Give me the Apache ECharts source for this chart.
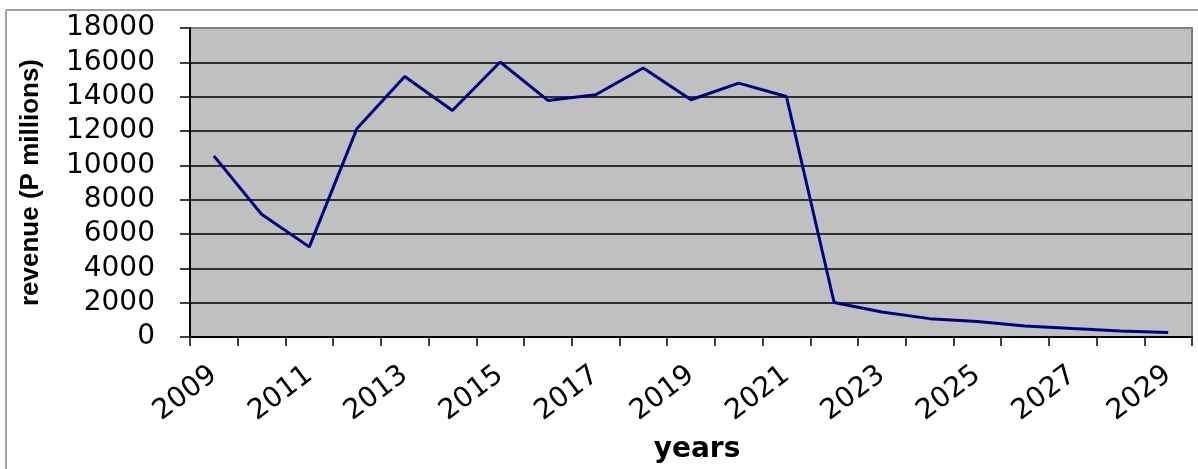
<!DOCTYPE html>
<html>
<head>
<meta charset="utf-8">
<title>Revenue by year</title>
<script src="https://cdn.jsdelivr.net/npm/echarts@6/dist/echarts.min.js"></script>
<style>
  html, body { margin: 0; padding: 0; background: #ffffff; }
  #chart { width: 1198px; height: 469px; }
</style>
</head>
<body>
<div id="chart"></div>
<script>
// Annual revenue, P millions
const years = ['2009', '2010', '2011', '2012', '2013', '2014', '2015', '2016', '2017', '2018', '2019',
               '2020', '2021', '2022', '2023', '2024', '2025', '2026', '2027', '2028', '2029'];
const revenue = [10550, 7150, 5250, 12150, 15180, 13190, 16020, 13780, 14110, 15670, 13820,
                 14790, 14010, 2010, 1460, 1070, 900, 640, 490, 350, 260];

// Value axis range
const yMin = 0;
const yMax = 18000;
const yStep = 2000;

const tickFont = 'DejaVu Sans';
const titleFont = 'Liberation Sans';

// grid lines are black, except the topmost one which is part of the grey frame
const gridColors = [];
for (let v = yMin; v <= yMax; v += yStep) gridColors.push(v === yMax ? '#808080' : '#000000');

const chart = echarts.init(document.getElementById('chart'), null, { renderer: 'canvas' });

chart.setOption({
  animation: false,
  backgroundColor: '#ffffff',
  grid: {
    left: 190, right: 6, top: 28, bottom: 132,
    show: true,
    backgroundColor: '#c0c0c0',
    borderColor: '#808080',
    borderWidth: 2
  },
  graphic: [
    { type: 'line', shape: { x1: 6, y1: 10, x2: 6, y2: 469 }, style: { stroke: '#a0a0a0', lineWidth: 2 } },
    { type: 'line', shape: { x1: 6, y1: 10, x2: 1198, y2: 10 }, style: { stroke: '#a0a0a0', lineWidth: 2 } }
  ],
  xAxis: {
    type: 'category',
    data: years,
    boundaryGap: true,
    name: 'years',
    nameLocation: 'middle',
    nameGap: 99,
    nameTextStyle: { fontFamily: tickFont, fontWeight: 'bold', fontSize: 28, color: '#000', padding: [0, 0, 0, 12] },
    axisLine: { show: true, lineStyle: { color: '#000', width: 2 } },
    axisTick: { show: true, interval: 0, length: 9, alignWithLabel: false, lineStyle: { color: '#000', width: 1.5 } },
    axisLabel: {
      interval: 1,
      rotate: 37,
      margin: 35,
      fontFamily: tickFont,
      fontSize: 28,
      color: '#000'
    },
    splitLine: { show: false }
  },
  yAxis: {
    type: 'value',
    min: yMin,
    max: yMax,
    interval: yStep,
    name: 'revenue (P millions)',
    nameLocation: 'middle',
    nameRotate: 90,
    nameGap: 146,
    nameTextStyle: { fontFamily: titleFont, fontWeight: 'bold', fontSize: 26, color: '#000' },
    axisLine: { show: true, lineStyle: { color: '#000', width: 2 } },
    axisTick: { show: true, length: 10, lineStyle: { color: '#000', width: 1.5 } },
    axisLabel: {
      margin: 35,
      fontFamily: tickFont,
      fontSize: 28,
      color: '#000',
      formatter: (v) => String(v)
    },
    splitLine: { show: true, lineStyle: { color: gridColors, width: 1.5 } }
  },
  series: [{
    type: 'line',
    data: revenue,
    showSymbol: false,
    symbol: 'none',
    smooth: false,
    lineStyle: { color: '#000080', width: 3 },
    itemStyle: { color: '#000080' }
  }]
});
</script>
</body>
</html>
